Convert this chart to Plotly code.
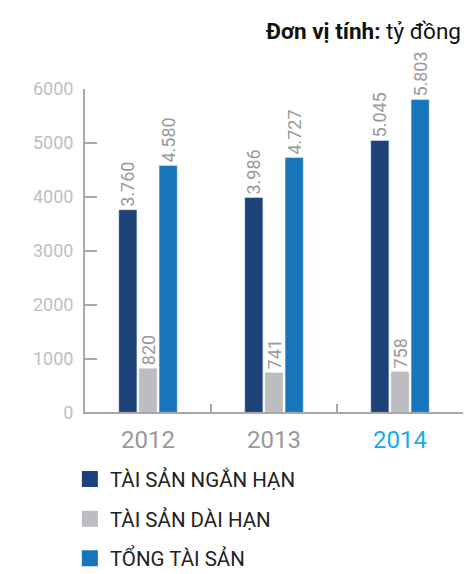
import plotly.graph_objects as go

years = ['2012', '2013', '2014']
ngan_han = [3760, 3986, 5045]
dai_han = [820, 741, 758]
tong = [4580, 4727, 5803]

series = [('TÀI SẢN NGẮN HẠN', ngan_han, '#1c4277'),
          ('TÀI SẢN DÀI HẠN', dai_han, '#bcbdc0'),
          ('TỔNG TÀI SẢN', tong, '#1776bb')]

FONT = 'Roboto'

fig = go.Figure()
for name, vals, color in series:
    fig.add_trace(go.Bar(
        x=years, y=vals, name=name, marker_color=color,
        texttemplate='%{y:,}', textposition='outside', textangle=-90,
        constraintext='none',
        textfont=dict(family=FONT, size=18, color='#9a9a9a'),
        cliponaxis=False, showlegend=False))
# legend entries with bigger square swatches
for i, (name, vals, color) in enumerate(series):
    fig.add_trace(go.Scatter(
        x=[None], y=[None], mode='markers', name=name, legendgroup=f'g{i}',
        marker=dict(symbol='square', size=20, color=color)))

ticktext = ['2012', '2013', "<span style='color:#1aabe6'>2014</span>"]

fig.update_layout(
    width=468, height=574,
    margin=dict(l=85, r=5, t=89, b=159),
    plot_bgcolor='white', paper_bgcolor='white',
    font=dict(family=FONT),
    separators=',.',
    barmode='group', bargap=0.52, bargroupgap=0.1,
    xaxis=dict(tickvals=years, ticktext=ticktext, tickson='boundaries',
               ticks='inside', ticklen=8, tickwidth=2, tickcolor='#a8a8a8',
               showline=True, linecolor='#a8a8a8', linewidth=2,
               ticklabelstandoff=5,
               tickfont=dict(size=24, color='#999999'), showgrid=False),
    yaxis=dict(range=[0, 6000], tickvals=[0, 1000, 2000, 3000, 4000, 5000, 6000],
               ticks='inside', ticklen=12, tickwidth=2, tickcolor='#a8a8a8',
               showline=True, linecolor='#a8a8a8', linewidth=2,
               showgrid=False, zeroline=False, ticklabelstandoff=6,
               tickfont=dict(size=18, color='#c0c0c0')),
    legend=dict(x=-0.04, y=0.2, yref='container', xanchor='left', yanchor='top',
                font=dict(size=20.5, color='#222222'),
                itemsizing='trace', tracegroupgap=10,
                traceorder='grouped'),
    annotations=[dict(
        x=1, y=1.18, xref='paper', yref='paper', xanchor='right',
        yanchor='middle', showarrow=False,
        text='<b>Đơn vị tính:</b> tỷ đồng',
        font=dict(size=22.5, color='#111111'))],
)

fig.write_html('out.html', config={'displayModeBar': False},
               post_script="document.body.style.margin='0';document.body.style.overflow='hidden';")
